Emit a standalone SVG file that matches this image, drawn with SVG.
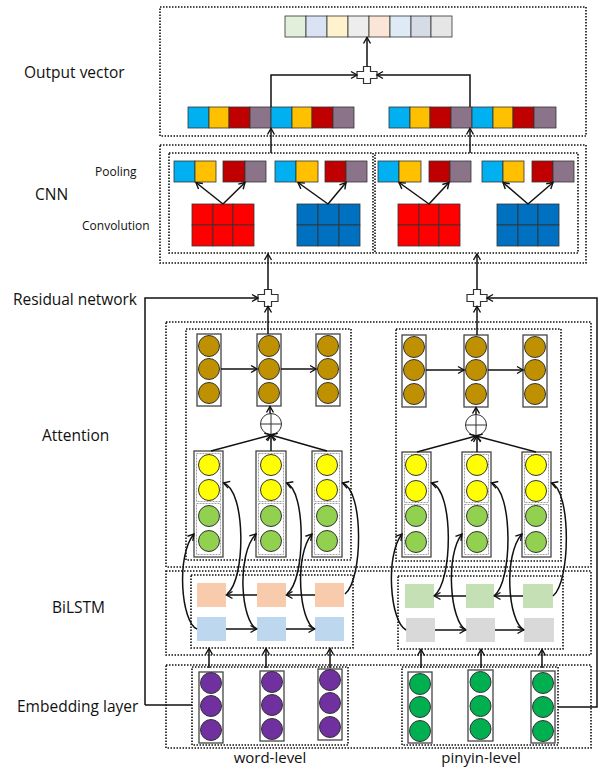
<svg xmlns="http://www.w3.org/2000/svg" width="601" height="768" viewBox="0 0 601 768">
<defs>
<marker id="ah" markerUnits="userSpaceOnUse" markerWidth="10" markerHeight="10" refX="8" refY="5" orient="auto">
<path d="M2,1.5 L8,5 L2,8.5" fill="none" stroke="#111" stroke-width="1.4"/>
</marker>
<polygon id="plus" points="-3.5,-8.5 3.5,-8.5 3.5,-3.5 10,-3.5 10,3.5 3.5,3.5 3.5,8.5 -3.5,8.5 -3.5,3.5 -10,3.5 -10,-3.5 -3.5,-3.5" fill="#fff" stroke="#333" stroke-width="1.2"/>
<g id="oplus"><circle r="10.5" fill="#fff" stroke="#333" stroke-width="1"/><path d="M-10.5,0 H10.5 M0,-10.5 V10.5" stroke="#333" stroke-width="1"/></g>
</defs>
<style>
.dot{fill:none;stroke:#111;stroke-width:1.6;stroke-dasharray:1.5 1.5}
.col{fill:#fff;stroke:#444;stroke-width:1.3}
.sub{fill:none;stroke:#888;stroke-width:0.8;stroke-dasharray:2 1}
.c{stroke:#333;stroke-width:1}
.br{fill:#BF9000}.ye{fill:#FFFF00}.gr{fill:#92D050}.pu{fill:#7030A0}.eg{fill:#00B050}
.cell{stroke:#333;stroke-width:0.8}
.ln{fill:none;stroke:#111;stroke-width:1.5}
.ar{fill:none;stroke:#111;stroke-width:1.5;marker-end:url(#ah)}
.lab{font-family:"Open Sans","Noto Sans",sans-serif;font-size:15.5px;fill:#111}
.bot{font-family:"Open Sans","Noto Sans",sans-serif;font-size:15px;fill:#111}
.sm{font-family:"Open Sans","Noto Sans",sans-serif;font-size:12px;fill:#111}
</style>
<rect width="601" height="768" fill="#fff"/>

<!-- labels -->
<g id="labels">
<text class="lab" x="24" y="78">Output vector</text>
<text class="sm" x="95" y="176">Pooling</text>
<text class="lab" x="35" y="200">CNN</text>
<text class="sm" x="82" y="230">Convolution</text>
<text class="lab" x="13" y="305" textLength="124">Residual network</text>
<text class="lab" x="42" y="441">Attention</text>
<text class="lab" x="52" y="613">BiLSTM</text>
<text class="lab" x="17" y="712">Embedding layer</text>
<text class="bot" x="270" y="763" text-anchor="middle">word-level</text>
<text class="bot" x="481" y="763" text-anchor="middle">pinyin-level</text>
</g>

<!-- frames -->
<g id="frames">
<rect class="dot" x="160" y="7" width="426" height="129"/>
<rect class="dot" x="160" y="145" width="426" height="118"/>
<rect class="dot" x="169" y="153" width="204" height="100"/>
<rect class="dot" x="375" y="153" width="203" height="100"/>
<rect class="dot" x="166" y="322" width="425" height="245"/>
<rect class="dot" x="186" y="329" width="165" height="231"/>
<rect class="dot" x="396" y="329" width="165" height="232"/>
<rect class="dot" x="166" y="571" width="425" height="84"/>
<rect class="dot" x="191" y="575" width="162" height="73"/>
<rect class="dot" x="398" y="576" width="165" height="73"/>
<rect class="dot" x="166" y="665" width="425" height="83"/>
<rect class="dot" x="192" y="667" width="156" height="78"/>
<rect class="dot" x="402" y="667" width="156" height="78"/>
</g>

<!-- output vector -->
<g id="output-vector" class="cell">
<rect x="285" y="16" width="21" height="21" fill="#E2EFDA"/>
<rect x="306" y="16" width="21" height="21" fill="#DAE3F3"/>
<rect x="327" y="16" width="21" height="21" fill="#FFF2CC"/>
<rect x="348" y="16" width="21" height="21" fill="#EDEDED"/>
<rect x="369" y="16" width="21" height="21" fill="#FBE5D6"/>
<rect x="390" y="16" width="21" height="21" fill="#DEEBF7"/>
<rect x="411" y="16" width="20" height="21" fill="#D6DCE5"/>
<rect x="431" y="16" width="21" height="21" fill="#E7E6E6"/>
</g>
<g id="concat-left" class="cell">
<rect x="188" y="107" width="21" height="21" fill="#00B0F0"/>
<rect x="209" y="107" width="20" height="21" fill="#FFC000"/>
<rect x="229" y="107" width="21" height="21" fill="#C00000"/>
<rect x="250" y="107" width="21" height="21" fill="#8B7489"/>
<rect x="271" y="107" width="21" height="21" fill="#00B0F0"/>
<rect x="292" y="107" width="20" height="21" fill="#FFC000"/>
<rect x="312" y="107" width="21" height="21" fill="#C00000"/>
<rect x="333" y="107" width="21" height="21" fill="#8B7489"/>
</g>
<g id="concat-right" class="cell">
<rect x="389" y="107" width="21" height="21" fill="#00B0F0"/>
<rect x="410" y="107" width="20" height="21" fill="#FFC000"/>
<rect x="430" y="107" width="21" height="21" fill="#C00000"/>
<rect x="451" y="107" width="21" height="21" fill="#8B7489"/>
<rect x="472" y="107" width="21" height="21" fill="#00B0F0"/>
<rect x="493" y="107" width="20" height="21" fill="#FFC000"/>
<rect x="513" y="107" width="21" height="21" fill="#C00000"/>
<rect x="534" y="107" width="22" height="21" fill="#8B7489"/>
</g>

<!-- pooling -->
<g id="pooling" class="cell">
<rect x="174" y="161" width="21" height="21" fill="#00B0F0"/><rect x="195" y="161" width="21" height="21" fill="#FFC000"/>
<rect x="223" y="161" width="22" height="21" fill="#C00000"/><rect x="245" y="161" width="21" height="21" fill="#8B7489"/>
<rect x="275" y="161" width="21" height="21" fill="#00B0F0"/><rect x="296" y="161" width="22" height="21" fill="#FFC000"/>
<rect x="325" y="161" width="21" height="21" fill="#C00000"/><rect x="346" y="161" width="21" height="21" fill="#8B7489"/>
<rect x="378" y="161" width="21" height="21" fill="#00B0F0"/><rect x="399" y="161" width="22" height="21" fill="#FFC000"/>
<rect x="429" y="161" width="21" height="21" fill="#C00000"/><rect x="450" y="161" width="21" height="21" fill="#8B7489"/>
<rect x="482" y="161" width="21" height="21" fill="#00B0F0"/><rect x="503" y="161" width="21" height="21" fill="#FFC000"/>
<rect x="532" y="161" width="21" height="21" fill="#C00000"/><rect x="553" y="161" width="21" height="21" fill="#8B7489"/>
</g>

<!-- convolution -->
<g id="conv-1" class="cell" fill="#FF0000">
<rect x="192" y="204" width="21" height="21"/><rect x="213" y="204" width="20" height="21"/><rect x="233" y="204" width="21" height="21"/>
<rect x="192" y="225" width="21" height="21"/><rect x="213" y="225" width="20" height="21"/><rect x="233" y="225" width="21" height="21"/>
</g>
<g id="conv-2" class="cell" fill="#0070C0">
<rect x="297" y="204" width="21" height="21"/><rect x="318" y="204" width="21" height="21"/><rect x="339" y="204" width="21" height="21"/>
<rect x="297" y="225" width="21" height="21"/><rect x="318" y="225" width="21" height="21"/><rect x="339" y="225" width="21" height="21"/>
</g>
<g id="conv-3" class="cell" fill="#FF0000">
<rect x="398" y="204" width="21" height="21"/><rect x="419" y="204" width="20" height="21"/><rect x="439" y="204" width="21" height="21"/>
<rect x="398" y="225" width="21" height="21"/><rect x="419" y="225" width="20" height="21"/><rect x="439" y="225" width="21" height="21"/>
</g>
<g id="conv-4" class="cell" fill="#0070C0">
<rect x="497" y="204" width="21" height="21"/><rect x="518" y="204" width="20" height="21"/><rect x="538" y="204" width="21" height="21"/>
<rect x="497" y="225" width="21" height="21"/><rect x="518" y="225" width="20" height="21"/><rect x="538" y="225" width="21" height="21"/>
</g>

<!-- add nodes -->
<g id="add-top"><use href="#plus" x="367" y="75"/></g>
<g id="add-left"><use href="#plus" x="268" y="298"/></g>
<g id="add-right"><use href="#plus" x="477" y="298"/></g>
<g id="oplus-left"><use href="#oplus" x="271" y="424"/></g>
<g id="oplus-right"><use href="#oplus" x="476" y="425"/></g>

<!-- attention output columns (brown) -->
<g id="att-out-left">
<rect class="col" x="197" y="334" width="24" height="72"/>
<circle class="c br" cx="209" cy="346" r="10.5"/><circle class="c br" cx="209" cy="369" r="10.5"/><circle class="c br" cx="209" cy="393" r="10.5"/>
<rect class="col" x="257" y="334" width="24" height="72"/>
<circle class="c br" cx="269" cy="346" r="10.5"/><circle class="c br" cx="269" cy="369" r="10.5"/><circle class="c br" cx="269" cy="393" r="10.5"/>
<rect class="col" x="316" y="334" width="24" height="72"/>
<circle class="c br" cx="328" cy="346" r="10.5"/><circle class="c br" cx="328" cy="369" r="10.5"/><circle class="c br" cx="328" cy="393" r="10.5"/>
</g>
<g id="att-out-right">
<rect class="col" x="402" y="335" width="24" height="72"/>
<circle class="c br" cx="414" cy="347" r="10.5"/><circle class="c br" cx="414" cy="370" r="10.5"/><circle class="c br" cx="414" cy="394" r="10.5"/>
<rect class="col" x="464" y="335" width="24" height="72"/>
<circle class="c br" cx="476" cy="347" r="10.5"/><circle class="c br" cx="476" cy="370" r="10.5"/><circle class="c br" cx="476" cy="394" r="10.5"/>
<rect class="col" x="523" y="335" width="24" height="72"/>
<circle class="c br" cx="535" cy="347" r="10.5"/><circle class="c br" cx="535" cy="370" r="10.5"/><circle class="c br" cx="535" cy="394" r="10.5"/>
</g>

<!-- attention hidden columns -->
<g id="att-in-left">
<rect class="col" x="194" y="451" width="29" height="106"/>
<rect class="sub" x="196.5" y="453.5" width="24" height="48"/><rect class="sub" x="196.5" y="503.5" width="24" height="51"/>
<circle class="c ye" cx="209" cy="465" r="10.5"/><circle class="c ye" cx="209" cy="490" r="10.5"/><circle class="c gr" cx="209" cy="516" r="10.5"/><circle class="c gr" cx="209" cy="541" r="10.5"/>
<rect class="col" x="256" y="451" width="30" height="106"/>
<rect class="sub" x="258.5" y="453.5" width="25" height="48"/><rect class="sub" x="258.5" y="503.5" width="25" height="51"/>
<circle class="c ye" cx="271" cy="465" r="10.5"/><circle class="c ye" cx="271" cy="490" r="10.5"/><circle class="c gr" cx="271" cy="516" r="10.5"/><circle class="c gr" cx="271" cy="541" r="10.5"/>
<rect class="col" x="312" y="451" width="30" height="106"/>
<rect class="sub" x="314.5" y="453.5" width="25" height="48"/><rect class="sub" x="314.5" y="503.5" width="25" height="51"/>
<circle class="c ye" cx="327" cy="465" r="10.5"/><circle class="c ye" cx="327" cy="490" r="10.5"/><circle class="c gr" cx="327" cy="516" r="10.5"/><circle class="c gr" cx="327" cy="541" r="10.5"/>
</g>
<g id="att-in-right">
<rect class="col" x="402" y="452" width="29" height="105"/>
<rect class="sub" x="404.5" y="454.5" width="24" height="48"/><rect class="sub" x="404.5" y="504.5" width="24" height="50"/>
<circle class="c ye" cx="416" cy="465" r="10.5"/><circle class="c ye" cx="416" cy="491" r="10.5"/><circle class="c gr" cx="416" cy="516" r="10.5"/><circle class="c gr" cx="416" cy="542" r="10.5"/>
<rect class="col" x="462" y="452" width="29" height="105"/>
<rect class="sub" x="464.5" y="454.5" width="24" height="48"/><rect class="sub" x="464.5" y="504.5" width="24" height="50"/>
<circle class="c ye" cx="477" cy="465" r="10.5"/><circle class="c ye" cx="477" cy="491" r="10.5"/><circle class="c gr" cx="477" cy="516" r="10.5"/><circle class="c gr" cx="477" cy="542" r="10.5"/>
<rect class="col" x="522" y="452" width="29" height="105"/>
<rect class="sub" x="524.5" y="454.5" width="24" height="48"/><rect class="sub" x="524.5" y="504.5" width="24" height="50"/>
<circle class="c ye" cx="536" cy="465" r="10.5"/><circle class="c ye" cx="536" cy="491" r="10.5"/><circle class="c gr" cx="536" cy="516" r="10.5"/><circle class="c gr" cx="536" cy="542" r="10.5"/>
</g>

<!-- BiLSTM cells -->
<g id="bilstm-left">
<rect x="197" y="583" width="29" height="24" fill="#F8CBAD"/><rect x="257" y="583" width="29" height="24" fill="#F8CBAD"/><rect x="315" y="583" width="29" height="24" fill="#F8CBAD"/>
<rect x="197" y="617" width="29" height="24" fill="#BDD7EE"/><rect x="257" y="617" width="29" height="24" fill="#BDD7EE"/><rect x="315" y="617" width="29" height="24" fill="#BDD7EE"/>
</g>
<g id="bilstm-right">
<rect x="405" y="584" width="29" height="24" fill="#C5E0B4"/><rect x="466" y="584" width="28" height="24" fill="#C5E0B4"/><rect x="523" y="584" width="30" height="24" fill="#C5E0B4"/>
<rect x="406" y="618" width="29" height="24" fill="#D9D9D9"/><rect x="466" y="618" width="29" height="24" fill="#D9D9D9"/><rect x="524" y="618" width="30" height="24" fill="#D9D9D9"/>
</g>

<!-- embedding columns -->
<g id="emb-left">
<rect class="col" x="199" y="672" width="24" height="71"/>
<circle class="c pu" cx="211" cy="683" r="10.5"/><circle class="c pu" cx="211" cy="706" r="10.5"/><circle class="c pu" cx="211" cy="730" r="10.5"/>
<rect class="col" x="260" y="671" width="24" height="70"/>
<circle class="c pu" cx="272" cy="682" r="10.5"/><circle class="c pu" cx="272" cy="705" r="10.5"/><circle class="c pu" cx="272" cy="729" r="10.5"/>
<rect class="col" x="318" y="669" width="24" height="71"/>
<circle class="c pu" cx="330" cy="680" r="10.5"/><circle class="c pu" cx="330" cy="703" r="10.5"/><circle class="c pu" cx="330" cy="727" r="10.5"/>
</g>
<g id="emb-right">
<rect class="col" x="408" y="672" width="24" height="71"/>
<circle class="c eg" cx="420" cy="684" r="10.5"/><circle class="c eg" cx="420" cy="707" r="10.5"/><circle class="c eg" cx="420" cy="731" r="10.5"/>
<rect class="col" x="468" y="670" width="25" height="71"/>
<circle class="c eg" cx="480.5" cy="682" r="10.5"/><circle class="c eg" cx="480.5" cy="706" r="10.5"/><circle class="c eg" cx="480.5" cy="729" r="10.5"/>
<rect class="col" x="531" y="671" width="24" height="72"/>
<circle class="c eg" cx="543" cy="683" r="10.5"/><circle class="c eg" cx="543" cy="707" r="10.5"/><circle class="c eg" cx="543" cy="731" r="10.5"/>
</g>

<!-- connectors -->
<g id="connectors">
<path class="ar" d="M367,66.5 V37.5"/>
<path class="ar" d="M271,107 V75 H357"/>
<path class="ar" d="M470,107 V75 H377"/>
<path class="ar" d="M271,153 V128.5"/>
<path class="ar" d="M470,153 V128.5"/>
<path class="ar" d="M223,204 L196,182.5"/><path class="ar" d="M223,204 L245,182.5"/>
<path class="ar" d="M328,204 L298,182.5"/><path class="ar" d="M328,204 L346,182.5"/>
<path class="ar" d="M429,204 L399,182.5"/><path class="ar" d="M429,204 L449,182.5"/>
<path class="ar" d="M528,204 L503,182.5"/><path class="ar" d="M528,204 L553,182.5"/>
<path class="ar" d="M268,289.5 V254"/>
<path class="ar" d="M477,289.5 V254"/>
<path class="ar" d="M268,334 V306.5"/>
<path class="ar" d="M477,335 V306.5"/>
<path class="ar" d="M145,705 V298 H258"/>
<path class="ln" d="M145,705 H192"/>
<path class="ar" d="M558,707 H597 V298 H487"/>
<path class="ar" d="M221,369 H257"/><path class="ar" d="M281,369 H316"/>
<path class="ar" d="M426,370 H464"/><path class="ar" d="M488,370 H523"/>
<path class="ar" d="M270,413.5 V406.5"/>
<path class="ar" d="M476,414.5 V407.5"/>
<path class="ar" d="M211,451 L271,435"/><path class="ar" d="M271,451 V435"/><path class="ar" d="M327,451 L271,435"/>
<path class="ar" d="M417,452 L476,436"/><path class="ar" d="M477,452 V436"/><path class="ar" d="M536,452 L476,436"/>
<path class="ar" d="M315,595 H286.5"/><path class="ar" d="M257,595 H226.5"/>
<path class="ar" d="M226,629 H256.5"/><path class="ar" d="M286,629 H314.5"/>
<path class="ar" d="M523,596 H494.5"/><path class="ar" d="M466,596 H434.5"/>
<path class="ar" d="M435,630 H465.5"/><path class="ar" d="M495,630 H523.5"/>
<path class="ar" d="M197,629 C181,622 176,555 194,534"/>
<path class="ar" d="M257,629 C241,622 236,555 256,534"/>
<path class="ar" d="M315,629 C299,622 294,555 312,534"/>
<path class="ar" d="M227,594 C246,580 246,490 223.5,483"/>
<path class="ar" d="M287,594 C306,580 306,490 286.5,483"/>
<path class="ar" d="M345,594 C363,580 364,490 342.5,483"/>
<path class="ar" d="M406,630 C390,622 385,555 402,534"/>
<path class="ar" d="M466,630 C450,622 445,555 462,534"/>
<path class="ar" d="M524,630 C508,622 503,555 522,534"/>
<path class="ar" d="M434,596 C453,582 454,490 431.5,483"/>
<path class="ar" d="M494,596 C513,582 513,490 491.5,483"/>
<path class="ar" d="M553,596 C571,582 571,490 551.5,483"/>
<path class="ar" d="M209,668 V648.5"/><path class="ar" d="M266,668 V648.5"/><path class="ar" d="M330,668 V648.5"/>
<path class="ar" d="M421,668 V649.5"/><path class="ar" d="M481,668 V649.5"/><path class="ar" d="M542,668 V649.5"/>
</g>
</svg>
